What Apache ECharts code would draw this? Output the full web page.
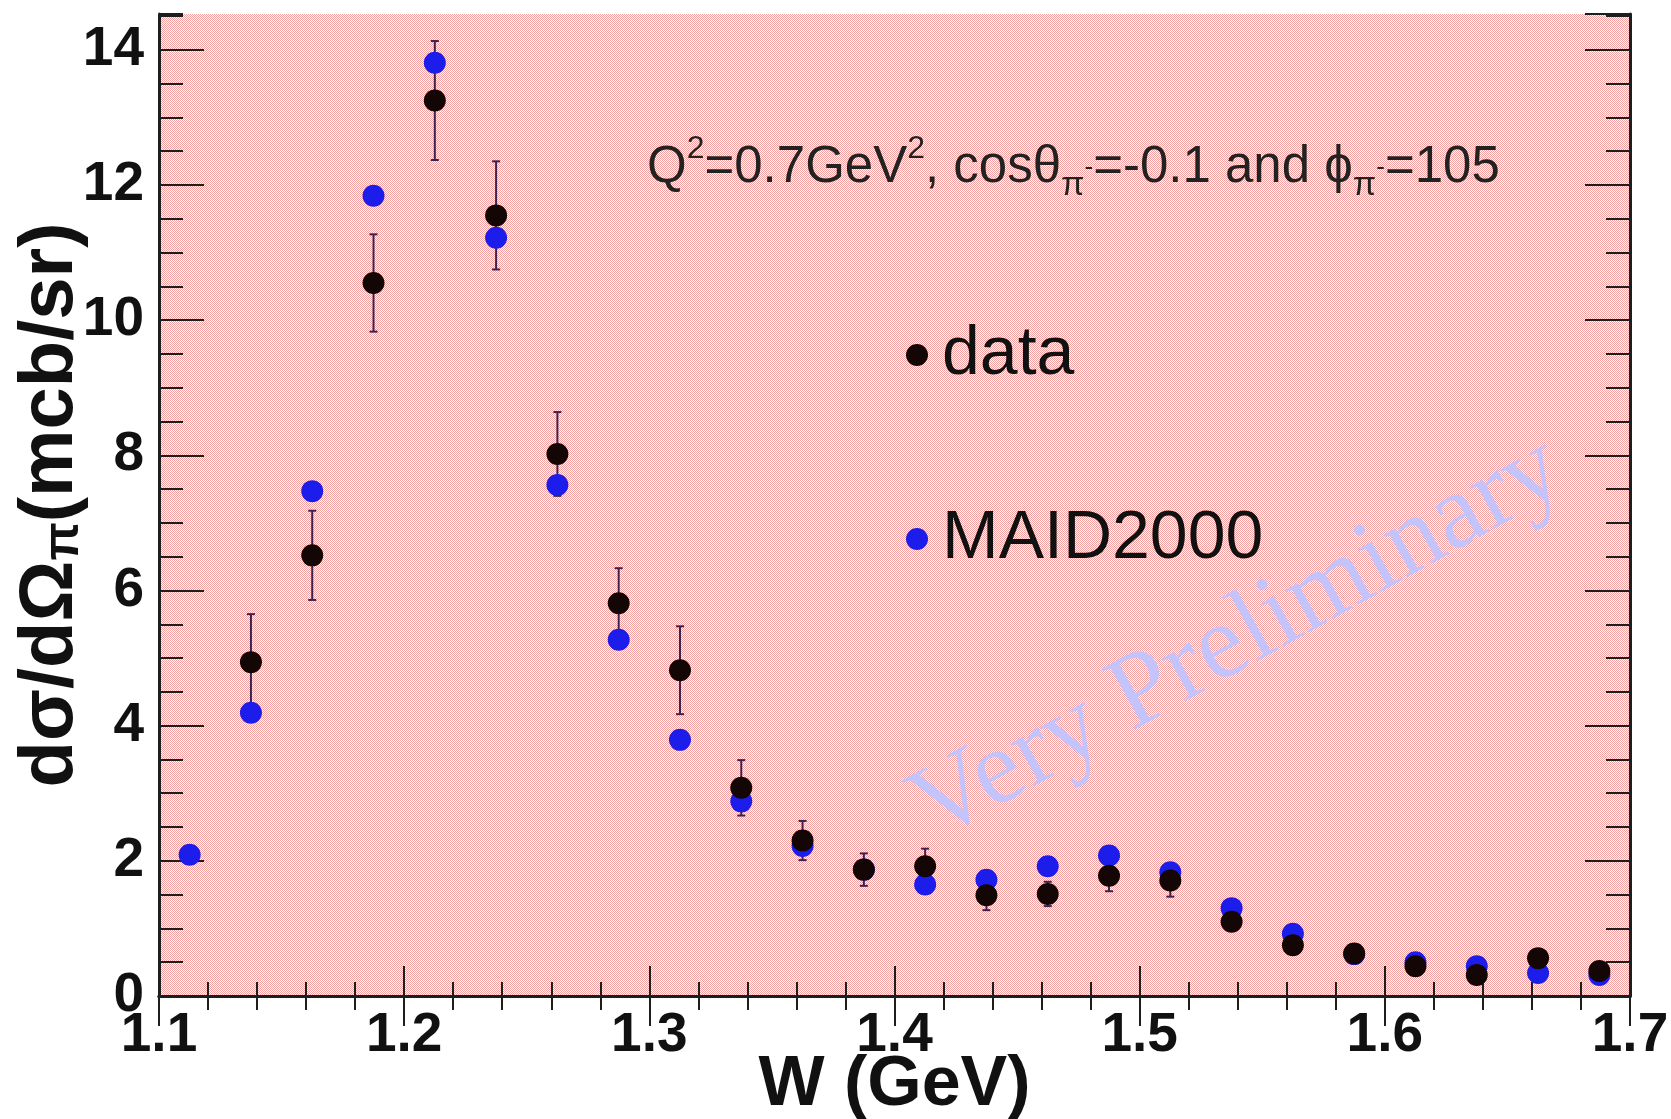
<!DOCTYPE html>
<html>
<head>
<meta charset="utf-8">
<script src="https://cdn.jsdelivr.net/npm/echarts@6/dist/echarts.min.js"></script>
<style>
  html, body { margin: 0; padding: 0; background: #ffffff; }
  #chart { width: 1671px; height: 1119px; }
</style>
</head>
<body>
<div id="chart"></div>
<script>
// W bin centres (GeV)
const W = [1.1125, 1.1375, 1.1625, 1.1875, 1.2125, 1.2375, 1.2625, 1.2875,
           1.3125, 1.3375, 1.3625, 1.3875, 1.4125, 1.4375, 1.4625, 1.4875,
           1.5125, 1.5375, 1.5625, 1.5875, 1.6125, 1.6375, 1.6625, 1.6875];

// measured cross section (mcb/sr) and its statistical error
const dataY = [null, 4.94, 6.52, 10.55, 13.25, 11.55, 8.02, 5.81,
               4.82, 3.08, 2.30, 1.87, 1.92, 1.49, 1.51, 1.78,
               1.71, 1.10, 0.75, 0.63, 0.44, 0.31, 0.56, 0.37];
const dataErr = [null, 0.71, 0.66, 0.72, 0.88, 0.80, 0.62, 0.52,
                 0.65, 0.41, 0.29, 0.24, 0.26, 0.22, 0.18, 0.23,
                 0.24, 0.10, 0.08, 0.06, 0.05, 0.05, 0.06, 0.05];

// MAID2000 model prediction (mcb/sr)
const maidY = [2.09, 4.19, 7.47, 11.84, 13.81, 11.22, 7.56, 5.27,
               3.79, 2.88, 2.22, 1.87, 1.65, 1.72, 1.92, 2.08,
               1.83, 1.30, 0.92, 0.62, 0.50, 0.44, 0.34, 0.31];

// axis settings
const xMin = 1.1, xMax = 1.7, xStep = 0.1, xMinorSplit = 5;
const yMin = 0, yMax = 14.53, yStep = 2, yMinorStep = 0.5;

const BOLD = "'Liberation Sans Narrow', 'Arial Narrow', 'Liberation Sans', Arial, sans-serif";
const SANS = "'Liberation Sans', Arial, sans-serif";

// dithered pink fill of the frame
function pinkPattern() {
  const c = document.createElement('canvas');
  c.width = 2; c.height = 2;
  const g = c.getContext('2d');
  g.fillStyle = '#ffffff'; g.fillRect(0, 0, 2, 2);
  g.fillStyle = '#f2a0a0';
  g.fillRect(0, 0, 1, 1);
  g.fillRect(1, 1, 1, 1);
  return c;
}

const dataPoints = [];
const errPoints = [];
const maidPoints = [];
for (let i = 0; i < W.length; i++) {
  maidPoints.push([W[i], maidY[i]]);
  if (dataY[i] !== null) {
    dataPoints.push([W[i], dataY[i]]);
    errPoints.push([W[i], dataY[i], dataY[i] - dataErr[i], dataY[i] + dataErr[i]]);
  }
}

const frameLine = { show: true, lineStyle: { color: '#1e1e1e', width: 3 } };
const tickStyle = { color: '#1e1e1e', width: 2 };

function xAxisDef(pos, withLabels) {
  return {
    type: 'value', position: pos, min: xMin, max: xMax, interval: xStep,
    axisLine: frameLine,
    axisTick: { show: true, inside: true, length: 30, lineStyle: tickStyle },
    minorTick: { show: true, splitNumber: xMinorSplit, length: 14, lineStyle: tickStyle },
    splitLine: { show: false }, minorSplitLine: { show: false },
    axisLabel: withLabels ? {
      show: true, margin: 12, fontSize: 55, fontWeight: 'bold', color: '#111',
      fontFamily: BOLD, formatter: v => v.toFixed(1), hideOverlap: false
    } : { show: false },
    name: withLabels ? 'W (GeV)' : '',
    nameLocation: 'middle', nameGap: 55, nameMoveOverlap: false,
    nameTextStyle: { fontSize: 70, fontWeight: 'bold', color: '#111', fontFamily: BOLD }
  };
}

function yAxisDef(pos, step, len, withLabels, showLine) {
  return {
    type: 'value', position: pos, min: yMin, max: yMax, interval: step,
    axisLine: showLine ? frameLine : { show: false },
    axisTick: { show: true, inside: true, length: len, lineStyle: tickStyle },
    splitLine: { show: false },
    axisLabel: withLabels ? {
      show: true, margin: 15, fontSize: 55, fontWeight: 'bold', color: '#111',
      fontFamily: BOLD, showMaxLabel: false, hideOverlap: false
    } : { show: false },
    name: withLabels ? 'dσ/dΩ{sub|π}(mcb/sr)' : '',
    nameLocation: 'middle', nameRotate: 90, nameGap: 70, nameMoveOverlap: false,
    nameTextStyle: {
      fontSize: 76, fontWeight: 'bold', color: '#111', fontFamily: BOLD,
      rich: {
        sub: { fontSize: 50, fontWeight: 'bold', color: '#111', fontFamily: BOLD,
               verticalAlign: 'bottom', lineHeight: 40 }
      }
    }
  };
}

const chart = echarts.init(document.getElementById('chart'), null, { renderer: 'canvas' });

chart.setOption({
  animation: false,
  backgroundColor: '#ffffff',
  grid: {
    left: 159, right: 41, top: 14, bottom: 123, containLabel: false,
    outerBoundsMode: 'none',
    show: true, borderWidth: 0,
    backgroundColor: { image: pinkPattern(), repeat: 'repeat' }
  },
  xAxis: [xAxisDef('bottom', true), xAxisDef('top', false)],
  yAxis: [
    yAxisDef('left', yStep, 45, true, true),
    yAxisDef('left', yMinorStep, 24, false, false),
    yAxisDef('right', yStep, 45, false, true),
    yAxisDef('right', yMinorStep, 24, false, false)
  ],
  legend: {
    orient: 'vertical', left: 901, top: 316, itemGap: 116,
    itemWidth: 22, itemHeight: 22, icon: 'circle',
    data: ['data', 'MAID2000'],
    textStyle: { fontSize: 68, lineHeight: 68, color: '#111', fontFamily: SANS, padding: [0, 0, 0, 9] }
  },
  graphic: [
    {
      type: 'text', x: 1238, y: 640, rotation: 0.51, z: 1, silent: true,
      style: {
        x: 0, y: 0, text: 'Very Preliminary', align: 'center', verticalAlign: 'middle',
        fontFamily: "'Liberation Serif', 'Times New Roman', serif", fontSize: 106,
        fill: '#c4c4fb'
      }
    },
    {
      type: 'text', x: 647, y: 168, z: 5, silent: true,
      style: {
        x: 0, y: 0, align: 'left', verticalAlign: 'middle',
        text: 'Q{sup|2}=0.7GeV{sup|2}, cosθ{sub|π}{subsup|-}=-0.1 and ϕ{sub|π}{subsup|-}=105',
        fontFamily: SANS, fontSize: 51, fill: '#222', lineHeight: 70,
        rich: {
          sup: { fontSize: 32, fontFamily: SANS, fill: '#222', verticalAlign: 'top', lineHeight: 40 },
          sub: { fontSize: 34, fontFamily: SANS, fill: '#222', verticalAlign: 'bottom', lineHeight: 34 },
          subsup: { fontSize: 26, fontFamily: SANS, fill: '#222', verticalAlign: 'middle', lineHeight: 40 }
        }
      }
    }
  ],
  series: [
    {
      name: 'data-errors', type: 'custom', xAxisIndex: 0, yAxisIndex: 0, z: 2,
      data: errPoints, encode: { x: 0, y: [2, 3] },
      renderItem: function (params, api) {
        const x = api.value(0);
        const lo = api.coord([x, api.value(2)]);
        const hi = api.coord([x, api.value(3)]);
        const cap = 4;
        const st = { stroke: '#3a2350', lineWidth: 2 };
        return {
          type: 'group',
          children: [
            { type: 'line', shape: { x1: lo[0], y1: lo[1], x2: hi[0], y2: hi[1] }, style: st },
            { type: 'line', shape: { x1: hi[0] - cap, y1: hi[1], x2: hi[0] + cap, y2: hi[1] }, style: st },
            { type: 'line', shape: { x1: lo[0] - cap, y1: lo[1], x2: lo[0] + cap, y2: lo[1] }, style: st }
          ]
        };
      }
    },
    {
      name: 'MAID2000', type: 'scatter', xAxisIndex: 0, yAxisIndex: 0, z: 3,
      symbol: 'circle', symbolSize: 22, data: maidPoints,
      itemStyle: { color: '#1c1ceb', opacity: 1 }
    },
    {
      name: 'data', type: 'scatter', xAxisIndex: 0, yAxisIndex: 0, z: 4,
      symbol: 'circle', symbolSize: 22, data: dataPoints,
      itemStyle: { color: '#150606', opacity: 1 }
    }
  ]
});
</script>
</body>
</html>
